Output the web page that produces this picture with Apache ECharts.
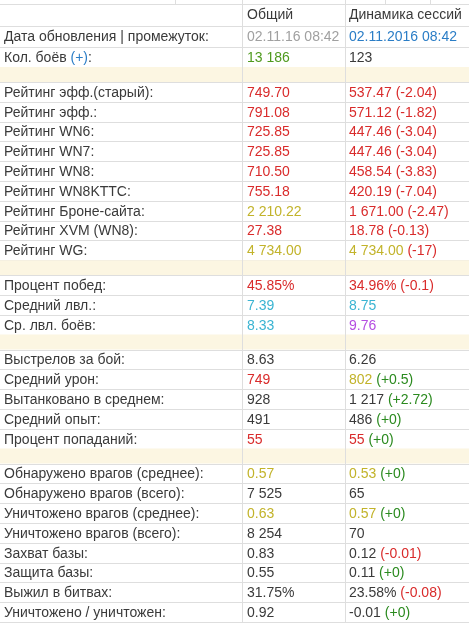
<!DOCTYPE html>
<html><head><meta charset="utf-8">
<script src="https://cdn.jsdelivr.net/npm/echarts@6/dist/echarts.min.js"></script>
<style>html,body{margin:0;padding:0;background:#fff}#c{width:469px;height:623px}</style>
</head><body><div id="c"></div>
<script>
// null label = spacer row; ~...~ marks a blue link part
const labels = ["Дата обновления | промежуток:", "Кол. боёв ~(+)~:", null,
 "Рейтинг эфф.(старый):", "Рейтинг эфф.:", "Рейтинг WN6:", "Рейтинг WN7:", "Рейтинг WN8:", "Рейтинг WN8KTTC:", "Рейтинг Броне-сайта:", "Рейтинг XVM (WN8):", "Рейтинг WG:", null,
 "Процент побед:", "Средний лвл.:", "Ср. лвл. боёв:", null,
 "Выстрелов за бой:", "Средний урон:", "Вытанковано в среднем:", "Средний опыт:", "Процент попаданий:", null,
 "Обнаружено врагов (среднее):", "Обнаружено врагов (всего):", "Уничтожено врагов (среднее):", "Уничтожено врагов (всего):", "Захват базы:", "Защита базы:", "Выжил в битвах:", "Уничтожено / уничтожен:"];
const overall = ["02.11.16 08:42","13 186",null,"749.70","791.08","725.85","725.85","710.50","755.18","2 210.22","27.38","4 734.00",null,"45.85%","7.39","8.33",null,"8.63","749","928","491","55",null,"0.57","7 525","0.63","8 254","0.83","0.55","31.75%","0.92"];
const overallColor = ["gray","green",null,"red","red","red","red","red","red","yellow","red","yellow",null,"red","cyan","cyan",null,"t","red","t","t","red",null,"yellow","t","yellow","t","t","t","t","t"];
const session = ["02.11.2016 08:42","123",null,"537.47","571.12","447.46","447.46","458.54","420.19","1 671.00","18.78","4 734.00",null,"34.96%","8.75","9.76",null,"6.26","802","1 217","486","55",null,"0.53","65","0.57","70","0.12","0.11","23.58%","-0.01"];
const sessionColor = ["blue","t",null,"red","red","red","red","red","red","red","red","yellow",null,"red","cyan","purple",null,"t","yellow","t","t","red",null,"yellow","t","yellow","t","t","t","t","t"];
const delta = [null,null,null,"-2.04","-1.82","-3.04","-3.04","-3.83","-7.04","-2.47","-0.13","-17",null,"-0.1",null,null,null,null,"+0.5","+2.72","+0","+0",null,"+0",null,"+0",null,"-0.01","+0","-0.08","+0"];
const headers = ["", "Общий", "Динамика сессий"];

const C = {t:"#3a3a3a", gray:"#a0a0a0", green:"#4f9a1e", red:"#d92b2b", yellow:"#c2b32a", cyan:"#3ab4d2", purple:"#b54ee2", blue:"#2a7dc6", dgreen:"#2a8a1e"};
const W = 469, X1 = 242, X2 = 345, ROW = 19.8, SP = 15, FONT = '14px "Liberation Sans", Arial, sans-serif';
const rich = {};
Object.keys(C).forEach(k => rich[k] = {fill:C[k], color:C[k], font:FONT});
const g = [];
const line = (x1,y1,x2,y2) => g.push({type:'line',shape:{x1,y1,x2,y2},style:{stroke:'#dedede',lineWidth:1},silent:true});
const txt = (x,y,text) => g.push({type:'text',x,y,style:{text,rich,font:FONT,fill:C.t,verticalAlign:'middle'},silent:true});
line(0,4.5,W,4.5); [175,242,345,385,430].forEach(x=>line(x+0.5,0,x+0.5,4.5));
txt(X1+5,15,'{t|'+headers[1]+'}'); txt(X2+4,15,'{t|'+headers[2]+'}');
let y = 26;
line(0,y+0.5,W,y+0.5);
labels.forEach((lab,i)=>{
  const h = lab===null ? SP : (i<2 ? 20.5 : ROW);
  if (lab===null) g.push({type:'rect',shape:{x:0,y,width:W,height:h},style:{fill:'#fcf6e2'},silent:true});
  else {
    const c = y + h/2 + 1;
    const parts = lab.split('~');
    txt(4,c, parts.map((p,j)=>p? (j===1?'{blue|'+p+'}':'{t|'+p+'}') : '').join(''));
    txt(X1+5,c,'{'+overallColor[i]+'|'+overall[i]+'}');
    let s = '{'+sessionColor[i]+'|'+session[i]+'}';
    if (delta[i]!==null) s += '{'+(delta[i][0]==='-'?'red':'dgreen')+'| ('+delta[i]+')}';
    txt(X2+4,c,s);
  }
  y += h;
  line(0,Math.round(y)+0.5,W,Math.round(y)+0.5);
});
line(X1+0.5,4,X1+0.5,y); line(X2+0.5,4,X2+0.5,y);
const chart = echarts.init(document.getElementById('c'),null,{renderer:'canvas'});
chart.setOption({animation:false, graphic:{elements:g}});
</script></body></html>
